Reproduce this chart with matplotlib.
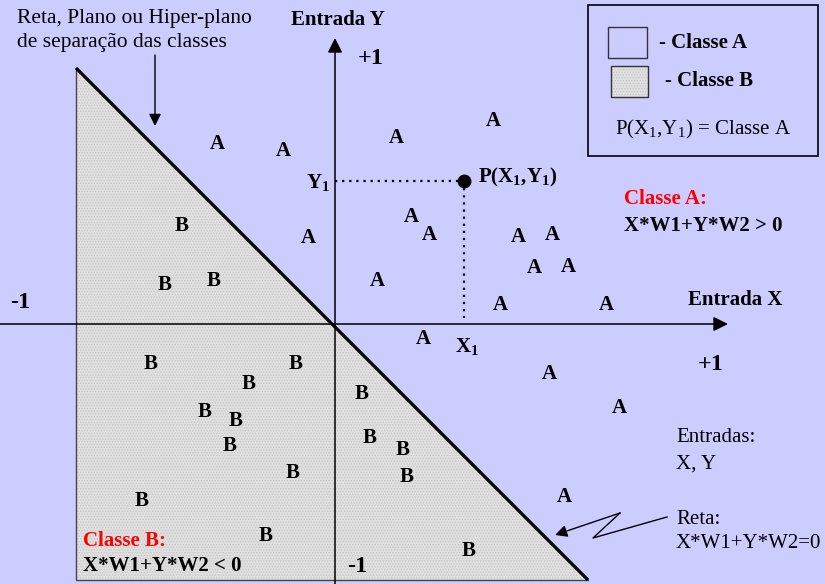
import matplotlib
matplotlib.use("Agg")
from matplotlib import pyplot as plt
from matplotlib.patches import Polygon, Rectangle

plt.rcParams["font.family"] = ["Liberation Serif", "DejaVu Serif"]
plt.rcParams["mathtext.fontset"] = "custom"
plt.rcParams["mathtext.rm"] = "Liberation Serif"
plt.rcParams["mathtext.bf"] = "Liberation Serif:bold"
plt.rcParams["hatch.linewidth"] = 0.6

# diagram coordinates (image-like, y grows downward)
class_a_x = [217, 283, 396, 493, 411, 429, 308, 518, 552, 534, 568,
             377, 500, 606, 423, 549, 619, 564]
class_a_y = [144, 151, 138, 121, 217, 235, 238, 237, 235, 268, 267,
             281, 305, 305, 339, 374, 408, 497]
class_b_x = [182, 165, 214, 151, 296, 249, 205, 236, 230, 362, 370,
             403, 407, 293, 142, 266, 469]
class_b_y = [226, 285, 281, 364, 364, 384, 412, 421, 446, 394, 438,
             450, 477, 473, 501, 536, 551]

origin = (335, 324)
point_p = (464, 181)
triangle = [(76, 68), (76, 580), (588, 580)]
zigzag_x = [667, 593, 620, 555]
zigzag_y = [517, 538, 513, 535]

BG = "#ccccff"
GRAY = "#e0e0e0"
DOTS = "#c4c4c4"
FS = 15


def draw_triangle(ax):
    """Shaded region of class B plus its borders."""
    ax.add_patch(Polygon(triangle, closed=True, facecolor=GRAY,
                         edgecolor=DOTS, hatch="......", lw=0))
    (x0, y0), (x1, y1), (x2, y2) = triangle
    ax.plot([x0, x1, x2], [y0, y1, y2], color="#444444", lw=1.0)
    ax.plot([x0, x2], [y0, y2], color="black", lw=2.3,
            solid_capstyle="butt")


def draw_axes(ax):
    ox, oy = origin
    arrow = dict(arrowstyle="-|>", color="black", lw=1.1,
                 mutation_scale=22, shrinkA=0, shrinkB=0)
    ax.annotate("", xy=(728, oy), xytext=(0, oy), arrowprops=arrow)
    ax.annotate("", xy=(ox, 38), xytext=(ox, 584), arrowprops=arrow)
    big = dict(fontsize=17.5, fontweight="bold", ha="center", va="center")
    ax.text(371, 58, "+1", **big)
    ax.text(711, 364, "+1", **big)
    ax.text(20, 302, "-1", **big)
    ax.text(357, 566, "-1", **big)
    lab = dict(fontsize=FS, fontweight="bold", ha="center", va="center")
    ax.text(338, 20, "Entrada Y", **lab)
    ax.text(735, 300, "Entrada X", **lab)


def draw_point(ax):
    ox, oy = origin
    px, py = point_p
    ax.plot([ox, px], [py, py], color="black", lw=1.6, ls=(0, (1, 2.2)))
    ax.plot([px, px], [py, 318], color="black", lw=1.6, ls=(0, (1, 2.2)))
    ax.plot(px, py, "o", color="black", ms=9)
    ax.text(478, 177, r"P(X$_\mathbf{1}$,Y$_\mathbf{1}$)", fontsize=FS,
            fontweight="bold", ha="left", va="center")
    ax.text(318, 183, r"Y$_\mathbf{1}$", fontsize=FS, fontweight="bold",
            ha="center", va="center")
    ax.text(467, 347, r"X$_\mathbf{1}$", fontsize=FS, fontweight="bold",
            ha="center", va="center")


def draw_legend(ax):
    ax.add_patch(Rectangle((588, 5), 230, 151, facecolor=BG,
                           edgecolor="black", lw=1.2))
    ax.add_patch(Rectangle((608, 27), 39, 31, facecolor=BG,
                           edgecolor="#333333", lw=1.0))
    ax.add_patch(Rectangle((611, 66), 37, 31, facecolor=GRAY,
                           edgecolor=DOTS, hatch="......", lw=0))
    ax.add_patch(Rectangle((611, 66), 37, 31, facecolor="none",
                           edgecolor="#333333", lw=1.0))
    ax.text(659, 43, "- Classe A", fontsize=FS, fontweight="bold",
            va="center")
    ax.text(665, 81, "- Classe B", fontsize=FS, fontweight="bold",
            va="center")
    ax.text(615, 129, r"P(X$_1$,Y$_1$) = Classe A", fontsize=FS,
            va="center")


def draw_notes(ax):
    ax.text(17, 18, "Reta, Plano ou Hiper-plano", fontsize=15.5,
            va="center")
    ax.text(17, 43, "de separação das classes", fontsize=15.5,
            va="center")
    ax.annotate("", xy=(155, 126), xytext=(155, 55),
                arrowprops=dict(arrowstyle="-|>", color="black", lw=1.0,
                                mutation_scale=18, shrinkA=0, shrinkB=0))
    ax.text(624, 199, "Classe A:", color="red", fontsize=FS,
            fontweight="bold", va="center")
    ax.text(624, 226, "X*W1+Y*W2 > 0", fontsize=FS, fontweight="bold",
            va="center")
    ax.text(83, 541, "Classe B:", color="red", fontsize=FS,
            fontweight="bold", va="center")
    ax.text(83, 566, "X*W1+Y*W2 < 0", fontsize=FS, fontweight="bold",
            va="center")
    ax.text(676, 438, "Entradas:", fontsize=FS, va="center")
    ax.text(676, 464, "X, Y", fontsize=FS, va="center")
    ax.text(676, 519, "Reta:", fontsize=FS, va="center")
    ax.text(676, 544, "X*W1+Y*W2=0", fontsize=FS, va="center")
    ax.plot(zigzag_x[:-1], zigzag_y[:-1], color="black", lw=1.0)
    ax.annotate("", xy=(zigzag_x[-1], zigzag_y[-1]),
                xytext=(zigzag_x[-2], zigzag_y[-2]),
                arrowprops=dict(arrowstyle="-|>", color="black", lw=1.0,
                                mutation_scale=18, shrinkA=0, shrinkB=0))


def main() -> None:
    fig = plt.figure(figsize=(8.25, 5.84), dpi=100, facecolor=BG)
    ax = fig.add_axes([0, 0, 1, 1])
    ax.set_facecolor(BG)
    ax.set_xlim(0, 825)
    ax.set_ylim(584, 0)
    ax.axis("off")

    draw_triangle(ax)
    draw_axes(ax)
    draw_point(ax)
    draw_legend(ax)
    draw_notes(ax)

    for x, y in zip(class_a_x, class_a_y):
        ax.text(x, y, "A", fontsize=FS, fontweight="bold",
                ha="center", va="center")
    for x, y in zip(class_b_x, class_b_y):
        ax.text(x, y, "B", fontsize=FS, fontweight="bold",
                ha="center", va="center")

    fig.savefig("out.png", dpi=100, facecolor=BG)


if __name__ == "__main__":
    main()
